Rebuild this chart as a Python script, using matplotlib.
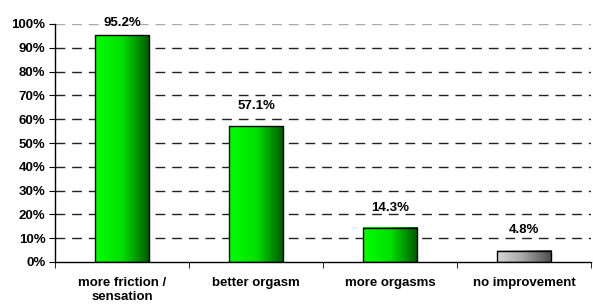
import numpy as np
import matplotlib.pyplot as plt
from matplotlib.colors import LinearSegmentedColormap

plt.rcParams['font.family'] = ['Liberation Sans', 'DejaVu Sans']

categories = ["more friction /\nsensation", "better orgasm", "more orgasms", "no improvement"]
values = [95.2, 57.1, 14.3, 4.8]
labels = ["95.2%", "57.1%", "14.3%", "4.8%"]
is_gray = [False, False, False, True]

green_cmap = LinearSegmentedColormap.from_list(
    "green", [(0.0, "#00ff00"), (0.5, "#00e000"), (1.0, "#005500")])
gray_cmap = LinearSegmentedColormap.from_list(
    "gray", [(0.0, "#d6d6d6"), (0.45, "#aaaaaa"), (1.0, "#4c4c4c")])

fig = plt.figure(figsize=(5.93, 3.07), dpi=100)
ax = fig.add_axes([55 / 593, 45 / 307, 536 / 593, 238 / 307])

x = np.arange(len(categories))
width = 0.41

# dashed grid lines
for g in range(10, 101, 10):
    ax.axhline(g, color="#222222" if g < 100 else "#aaaaaa", lw=1.0,
               dashes=(7, 5), zorder=0)

grad = np.linspace(0, 1, 256).reshape(1, -1)
for xi, v, lab, gray in zip(x, values, labels, is_gray):
    left = xi - width / 2
    ax.imshow(grad, cmap=gray_cmap if gray else green_cmap, aspect="auto",
              extent=[left, left + width, 0, v], zorder=2)
    ax.bar(xi, v, width=width, facecolor="none", edgecolor="black",
           lw=1.0, zorder=3)
    ax.text(xi, min(v + 6, 98), lab, ha="center", va="bottom", fontsize=9.5,
            fontweight="bold", zorder=4, clip_on=False)

ax.set_xlim(-0.5, len(categories) - 0.5)
ax.set_ylim(0, 100)
ax.set_yticks(range(0, 101, 10))
ax.set_yticklabels([f"{t}%" for t in range(0, 101, 10)],
                   fontsize=9.5, fontweight="bold")
ax.set_xticks(x)
ax.set_xticklabels(categories, fontsize=9.5, fontweight="bold",
                   linespacing=1.15)
ax.tick_params(axis="x", length=0, pad=11)
ax.set_xticks(np.arange(-0.5, len(categories), 1), minor=True)
ax.tick_params(axis="x", which="minor", length=4, direction="out")
ax.tick_params(axis="y", length=4, direction="out", pad=3)

for s in ["top", "right"]:
    ax.spines[s].set_visible(False)
ax.spines["left"].set_linewidth(1.0)
ax.spines["bottom"].set_linewidth(1.0)

fig.savefig("out.png", dpi=100)
